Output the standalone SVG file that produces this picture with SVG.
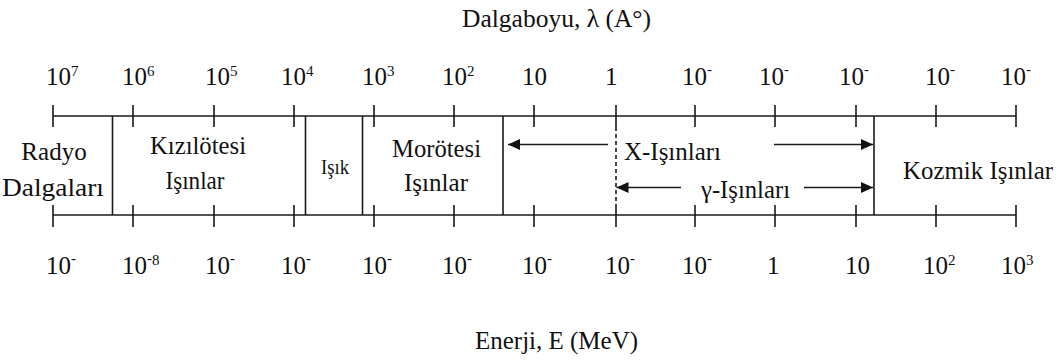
<svg xmlns="http://www.w3.org/2000/svg" width="1061" height="363" viewBox="0 0 1061 363">
<style>
text{font-family:"Liberation Serif","Times New Roman",serif;fill:#111}
.t{font-size:25px}
.n{font-size:25px}
.s{font-size:15px}
.ln{stroke:#1a1a1a;stroke-width:1.6;fill:none}
.dash{stroke:#1a1a1a;stroke-width:1.6;stroke-dasharray:4 3;fill:none}
.arr{stroke:#1a1a1a;stroke-width:1.6;fill:none;marker-end:url(#ah)}
</style>
<defs>
<marker id="ah" markerUnits="userSpaceOnUse" markerWidth="13" markerHeight="12" refX="12" refY="5.5" orient="auto">
<path d="M0,0 L12,5.5 L0,11 z" fill="#111"/>
</marker>
</defs>
<rect width="1061" height="363" fill="#fff"/>

<g id="axes">
<line class="ln" x1="53" y1="116" x2="1016" y2="116"/>
<line class="ln" x1="53" y1="215" x2="1016" y2="215"/>
<path class="ln" d="M53,105V127M133,105V127M214,105V127M294,105V127M374,105V127M454,105V127M534,105V127M616,105V127M695,105V127M775,105V127M856,105V127M936,105V127M1016,105V127"/>
<path class="ln" d="M53,205V227M133,205V227M214,205V227M294,205V227M374,205V227M454,205V227M534,205V227M616,205V227M695,205V227M775,205V227M856,205V227M936,205V227M1016,205V227"/>
<path class="ln" d="M112.5,116V215M305.5,116V215M362.5,116V215M503,116V215M874,116V215"/>
<line class="dash" x1="616" y1="127" x2="616" y2="205"/>
</g>

<g id="title-wavelength"><text class="t" x="462" y="27" textLength="189" lengthAdjust="spacingAndGlyphs">Dalgaboyu, λ (A°)</text></g>
<g id="title-energy"><text class="t" x="475" y="349" textLength="163" lengthAdjust="spacingAndGlyphs">Enerji, E (MeV)</text></g>

<g id="wavelength-labels">
<text class="n" x="46" y="85">10<tspan class="s" dy="-9">7</tspan></text>
<text class="n" x="122" y="85">10<tspan class="s" dy="-9">6</tspan></text>
<text class="n" x="205" y="85">10<tspan class="s" dy="-9">5</tspan></text>
<text class="n" x="281" y="85">10<tspan class="s" dy="-9">4</tspan></text>
<text class="n" x="362" y="85">10<tspan class="s" dy="-9">3</tspan></text>
<text class="n" x="442" y="85">10<tspan class="s" dy="-9">2</tspan></text>
<text class="n" x="522" y="85">10</text>
<text class="n" x="605" y="85">1</text>
<text class="n" x="682" y="85">10<tspan class="s" dy="-11">-</tspan></text>
<text class="n" x="759" y="85">10<tspan class="s" dy="-11">-</tspan></text>
<text class="n" x="839" y="85">10<tspan class="s" dy="-11">-</tspan></text>
<text class="n" x="925" y="85">10<tspan class="s" dy="-11">-</tspan></text>
<text class="n" x="1001" y="85">10<tspan class="s" dy="-11">-</tspan></text>
</g>

<g id="energy-labels">
<text class="n" x="46" y="274">10<tspan class="s" dy="-11">-</tspan></text>
<text class="n" x="122" y="274">10<tspan class="s" dy="-11">-</tspan><tspan class="s" dy="2">8</tspan></text>
<text class="n" x="205" y="274">10<tspan class="s" dy="-11">-</tspan></text>
<text class="n" x="281" y="274">10<tspan class="s" dy="-11">-</tspan></text>
<text class="n" x="362" y="274">10<tspan class="s" dy="-11">-</tspan></text>
<text class="n" x="442" y="274">10<tspan class="s" dy="-11">-</tspan></text>
<text class="n" x="522" y="274">10<tspan class="s" dy="-11">-</tspan></text>
<text class="n" x="605" y="274">10<tspan class="s" dy="-11">-</tspan></text>
<text class="n" x="682" y="274">10<tspan class="s" dy="-11">-</tspan></text>
<text class="n" x="767" y="274">1</text>
<text class="n" x="845" y="274">10</text>
<text class="n" x="923" y="274">10<tspan class="s" dy="-9">2</tspan></text>
<text class="n" x="1001" y="274">10<tspan class="s" dy="-9">3</tspan></text>
</g>

<g id="radio">
<text class="t" x="54" y="160" text-anchor="middle">Radyo</text>
<text class="t" x="2" y="196" textLength="102" lengthAdjust="spacingAndGlyphs">Dalgaları</text>
</g>
<g id="infrared">
<text class="t" x="150" y="154" textLength="96" lengthAdjust="spacingAndGlyphs">Kızılötesi</text>
<text class="t" x="165.5" y="189" textLength="59" lengthAdjust="spacingAndGlyphs">Işınlar</text>
</g>
<g id="light">
<text class="t" x="321" y="174" style="font-size:20px" textLength="28" lengthAdjust="spacingAndGlyphs">Işık</text>
</g>
<g id="ultraviolet">
<text class="t" x="392" y="157" textLength="89" lengthAdjust="spacingAndGlyphs">Morötesi</text>
<text class="t" x="404" y="191" textLength="64" lengthAdjust="spacingAndGlyphs">Işınlar</text>
</g>
<g id="xrays">
<text class="t" x="624" y="160" textLength="97" lengthAdjust="spacingAndGlyphs">X-Işınları</text>
</g>
<g id="gamma">
<text class="t" x="701" y="198" textLength="89" lengthAdjust="spacingAndGlyphs">γ-Işınları</text>
</g>
<g id="cosmic">
<text class="t" x="903" y="179" textLength="150" lengthAdjust="spacingAndGlyphs">Kozmik Işınlar</text>
</g>

<g id="connectors">
<line class="arr" x1="608" y1="144.5" x2="508" y2="144.5"/>
<line class="arr" x1="774" y1="144.5" x2="873" y2="144.5"/>
<line class="arr" x1="681" y1="187.5" x2="616.5" y2="187.5"/>
<line class="arr" x1="804" y1="187.5" x2="873" y2="187.5"/>
</g>
</svg>
